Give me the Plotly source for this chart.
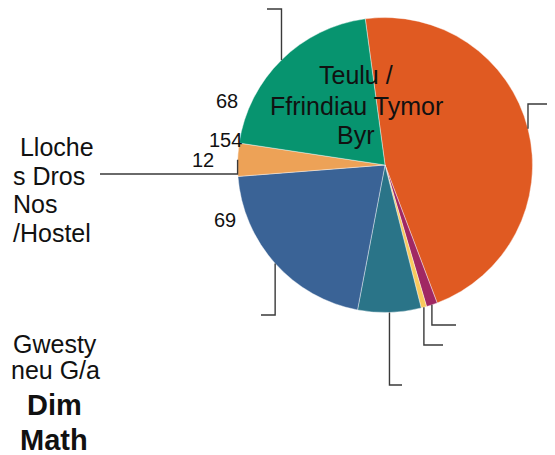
import math
import plotly.graph_objects as go

# ---- data ----
categories = ["Teulu / Ffrindiau Tymor Byr", "Cysgu Allan", "Arall", "Llety Dros Dro",
              "Gwesty neu G/a", "Lloches Dros Nos /Hostel", "Dim Math"]
values = [154, 4, 2, 23, 69, 12, 68]
colors = ["#E05A22", "#A02863", "#F9C95E", "#2A7488", "#3A6396", "#EDA257", "#07946F"]
value_labels = ["68", "154", "12", "69"]

W, H = 555, 455
OFF = 8  # page body margin
CX, CY, R = 385.0, 165.0, 147.5
ROT = -7.7


def px(x):
    return (x - OFF) / W


def py(y):
    return 1 - (y - OFF) / H


fig = go.Figure(go.Pie(
    labels=categories, values=values, sort=False, direction="clockwise",
    rotation=ROT, textinfo="none", hoverinfo="label+value+percent",
    marker=dict(colors=colors, line=dict(color="rgba(255,255,255,0.5)", width=0.8)),
    domain=dict(x=[px(CX - R), px(CX + R)], y=[py(CY + R), py(CY - R)]),
    showlegend=False,
))

# leader lines anchored on the slice mid-angle (computed from the values)
total = sum(values)
mids = []
acc = 0.0
for v in values:
    mids.append(ROT + (acc + v / 2) / total * 360)
    acc += v

# (elbow y, horizontal end x) per slice
elbows = [(104, 570), (325, 456), (345, 443), (385, 402), (315, 261), (174, 100), (9, 267)]
shapes = []
for ang, (ey, ex) in zip(mids, elbows):
    a = math.radians(ang)
    ax = CX + R * math.sin(a)
    ay = CY - R * math.cos(a)
    shapes.append(dict(type="path", xref="paper", yref="paper",
                       path=f"M {px(ax)},{py(ay)} L {px(ax)},{py(ey)} L {px(ex)},{py(ey)}",
                       line=dict(color="#3a3a3a", width=1.4)))

F = "Liberation Sans, Arial, sans-serif"
ann = []


def txt(x, y, s, size, xanchor="center", bold=False):
    ann.append(dict(x=px(x), y=py(y), xref="paper", yref="paper",
                    text=(f"<b>{s}</b>" if bold else s),
                    showarrow=False, xanchor=xanchor, yanchor="middle",
                    font=dict(family=F, size=size, color="#111")))


for s, y in zip(["Teulu /", "Ffrindiau Tymor", "Byr"], [75, 106, 135]):
    txt(356, y, s, 25)
txt(227, 101, value_labels[0], 20)
txt(225, 140, value_labels[1], 20)
txt(203, 160, value_labels[2], 20)
txt(225, 220, value_labels[3], 20)
for s, y in zip(["&nbsp;Lloche", "s Dros", "Nos", "/Hostel"], [147, 176, 204, 233]):
    txt(11, y, s, 25, xanchor="left")
for s, y in zip(["Gwesty", "neu G/a"], [344, 370]):
    txt(55, y, s, 25)
for s, y in zip(["Dim", "Math"], [405, 440]):
    txt(54, y, s, 29, bold=True)

fig.update_layout(width=W, height=H, margin=dict(l=0, r=0, t=0, b=0),
                  paper_bgcolor="white", plot_bgcolor="white",
                  shapes=shapes, annotations=ann)
fig.write_html("out.html")
